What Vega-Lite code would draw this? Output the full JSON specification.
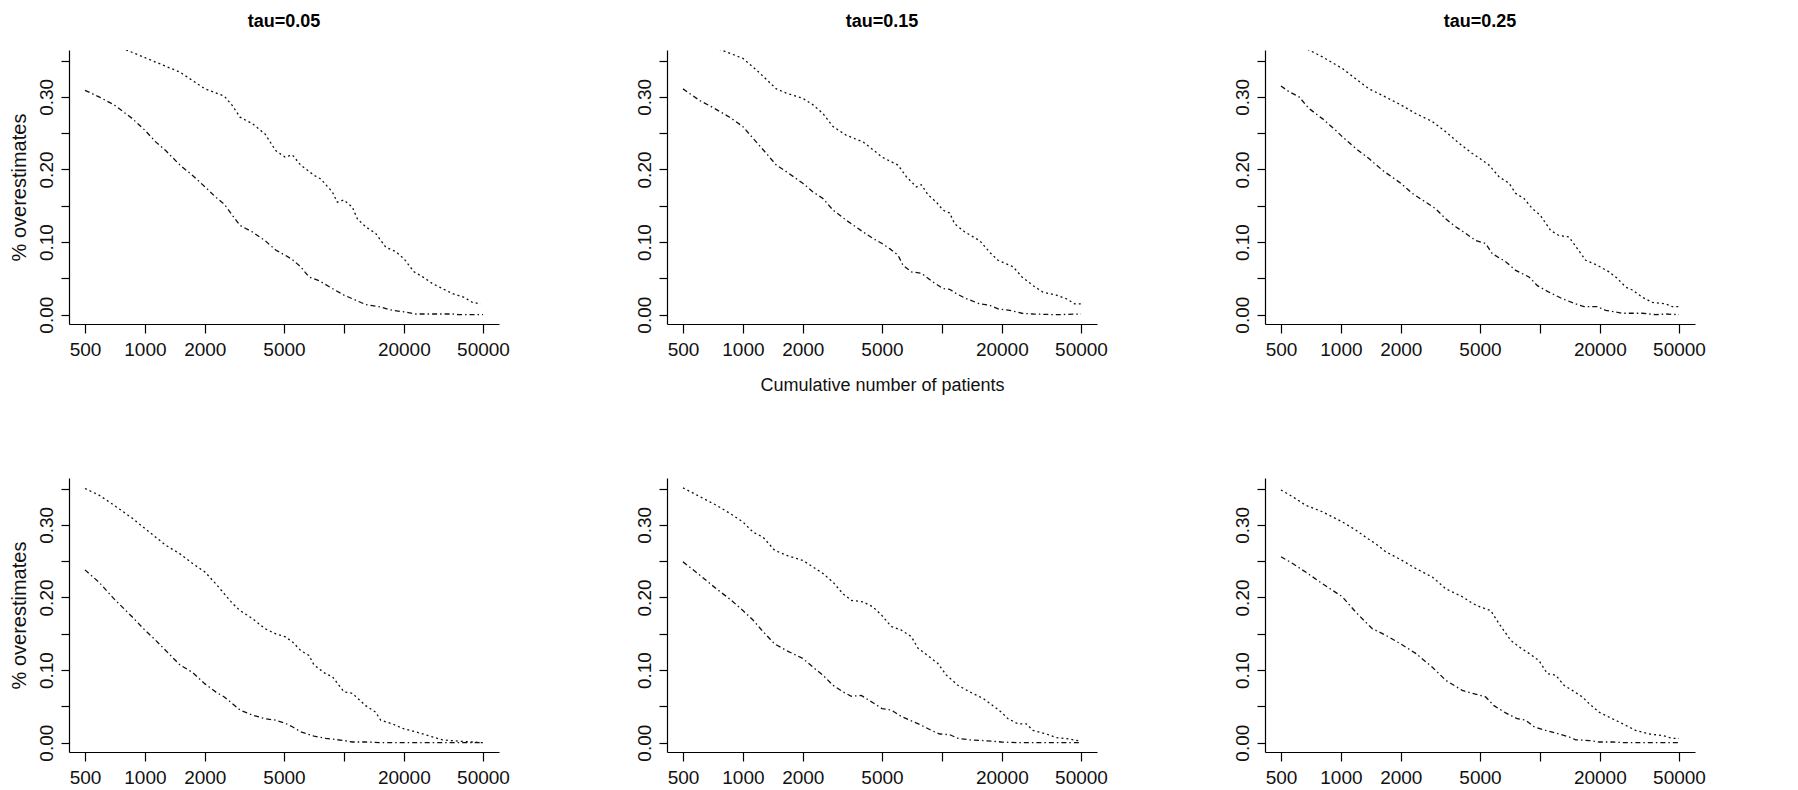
{
"$schema":"https://vega.github.io/schema/vega-lite/v6.json",
"padding":{"left":9,"top":13,"right":5,"bottom":0},
"background":"white",
"datasets":{"d":[
{"p":"TL","s":"upper","n":500,"v":0.39},{"p":"TL","s":"upper","n":800,"v":0.365},{"p":"TL","s":"upper","n":1000,"v":0.354},{"p":"TL","s":"upper","n":1177,"v":0.346},{"p":"TL","s":"upper","n":1501,"v":0.334},{"p":"TL","s":"upper","n":2004,"v":0.311},{"p":"TL","s":"upper","n":2507,"v":0.301},{"p":"TL","s":"upper","n":2750,"v":0.288},{"p":"TL","s":"upper","n":3005,"v":0.272},{"p":"TL","s":"upper","n":3467,"v":0.263},{"p":"TL","s":"upper","n":4013,"v":0.249},{"p":"TL","s":"upper","n":4541,"v":0.226},{"p":"TL","s":"upper","n":5058,"v":0.217},{"p":"TL","s":"upper","n":5507,"v":0.22},{"p":"TL","s":"upper","n":6063,"v":0.206},{"p":"TL","s":"upper","n":7075,"v":0.192},{"p":"TL","s":"upper","n":7643,"v":0.187},{"p":"TL","s":"upper","n":8749,"v":0.169},{"p":"TL","s":"upper","n":9267,"v":0.155},{"p":"TL","s":"upper","n":10010,"v":0.158},{"p":"TL","s":"upper","n":11025,"v":0.148},{"p":"TL","s":"upper","n":11682,"v":0.132},{"p":"TL","s":"upper","n":12864,"v":0.121},{"p":"TL","s":"upper","n":14441,"v":0.112},{"p":"TL","s":"upper","n":16215,"v":0.093},{"p":"TL","s":"upper","n":18200,"v":0.087},{"p":"TL","s":"upper","n":20045,"v":0.077},{"p":"TL","s":"upper","n":22505,"v":0.059},{"p":"TL","s":"upper","n":25260,"v":0.051},{"p":"TL","s":"upper","n":27823,"v":0.043},{"p":"TL","s":"upper","n":31237,"v":0.036},{"p":"TL","s":"upper","n":35073,"v":0.029},{"p":"TL","s":"upper","n":40135,"v":0.024},{"p":"TL","s":"upper","n":44203,"v":0.017},{"p":"TL","s":"upper","n":48669,"v":0.015},
{"p":"TL","s":"lower","n":500,"v":0.309},{"p":"TL","s":"lower","n":588,"v":0.3},{"p":"TL","s":"lower","n":700,"v":0.289},{"p":"TL","s":"lower","n":865,"v":0.27},{"p":"TL","s":"lower","n":1000,"v":0.254},{"p":"TL","s":"lower","n":1133,"v":0.238},{"p":"TL","s":"lower","n":1272,"v":0.226},{"p":"TL","s":"lower","n":1501,"v":0.206},{"p":"TL","s":"lower","n":1731,"v":0.192},{"p":"TL","s":"lower","n":2004,"v":0.176},{"p":"TL","s":"lower","n":2268,"v":0.162},{"p":"TL","s":"lower","n":2507,"v":0.152},{"p":"TL","s":"lower","n":2750,"v":0.137},{"p":"TL","s":"lower","n":3005,"v":0.123},{"p":"TL","s":"lower","n":3467,"v":0.114},{"p":"TL","s":"lower","n":4013,"v":0.102},{"p":"TL","s":"lower","n":4541,"v":0.089},{"p":"TL","s":"lower","n":5058,"v":0.082},{"p":"TL","s":"lower","n":5507,"v":0.076},{"p":"TL","s":"lower","n":6063,"v":0.066},{"p":"TL","s":"lower","n":6678,"v":0.052},{"p":"TL","s":"lower","n":7496,"v":0.047},{"p":"TL","s":"lower","n":8749,"v":0.036},{"p":"TL","s":"lower","n":10010,"v":0.027},{"p":"TL","s":"lower","n":11459,"v":0.02},{"p":"TL","s":"lower","n":12864,"v":0.014},{"p":"TL","s":"lower","n":15010,"v":0.011},{"p":"TL","s":"lower","n":17513,"v":0.006},{"p":"TL","s":"lower","n":20045,"v":0.004},{"p":"TL","s":"lower","n":22939,"v":0.001},{"p":"TL","s":"lower","n":27823,"v":0.001},{"p":"TL","s":"lower","n":35073,"v":0.001},{"p":"TL","s":"lower","n":37885,"v":0.0},{"p":"TL","s":"lower","n":50000,"v":0.0},
{"p":"TM","s":"upper","n":500,"v":0.39},{"p":"TM","s":"upper","n":770,"v":0.365},{"p":"TM","s":"upper","n":1000,"v":0.353},{"p":"TM","s":"upper","n":1170,"v":0.337},{"p":"TM","s":"upper","n":1472,"v":0.311},{"p":"TM","s":"upper","n":1653,"v":0.305},{"p":"TM","s":"upper","n":2000,"v":0.298},{"p":"TM","s":"upper","n":2250,"v":0.289},{"p":"TM","s":"upper","n":2525,"v":0.277},{"p":"TM","s":"upper","n":2837,"v":0.259},{"p":"TM","s":"upper","n":3311,"v":0.247},{"p":"TM","s":"upper","n":4013,"v":0.238},{"p":"TM","s":"upper","n":4419,"v":0.229},{"p":"TM","s":"upper","n":5000,"v":0.217},{"p":"TM","s":"upper","n":6018,"v":0.206},{"p":"TM","s":"upper","n":6629,"v":0.19},{"p":"TM","s":"upper","n":7438,"v":0.176},{"p":"TM","s":"upper","n":7883,"v":0.179},{"p":"TM","s":"upper","n":8515,"v":0.165},{"p":"TM","s":"upper","n":9375,"v":0.155},{"p":"TM","s":"upper","n":10127,"v":0.144},{"p":"TM","s":"upper","n":10940,"v":0.14},{"p":"TM","s":"upper","n":11593,"v":0.125},{"p":"TM","s":"upper","n":13015,"v":0.114},{"p":"TM","s":"upper","n":15481,"v":0.102},{"p":"TM","s":"upper","n":17377,"v":0.086},{"p":"TM","s":"upper","n":19140,"v":0.075},{"p":"TM","s":"upper","n":21076,"v":0.07},{"p":"TM","s":"upper","n":22766,"v":0.066},{"p":"TM","s":"upper","n":25260,"v":0.052},{"p":"TM","s":"upper","n":28704,"v":0.04},{"p":"TM","s":"upper","n":32211,"v":0.031},{"p":"TM","s":"upper","n":37584,"v":0.027},{"p":"TM","s":"upper","n":42200,"v":0.022},{"p":"TM","s":"upper","n":46450,"v":0.015},{"p":"TM","s":"upper","n":50000,"v":0.015},
{"p":"TM","s":"lower","n":500,"v":0.311},{"p":"TM","s":"lower","n":606,"v":0.295},{"p":"TM","s":"lower","n":721,"v":0.284},{"p":"TM","s":"lower","n":858,"v":0.272},{"p":"TM","s":"lower","n":1000,"v":0.259},{"p":"TM","s":"lower","n":1124,"v":0.243},{"p":"TM","s":"lower","n":1312,"v":0.222},{"p":"TM","s":"lower","n":1472,"v":0.206},{"p":"TM","s":"lower","n":1653,"v":0.197},{"p":"TM","s":"lower","n":2000,"v":0.181},{"p":"TM","s":"lower","n":2250,"v":0.169},{"p":"TM","s":"lower","n":2525,"v":0.16},{"p":"TM","s":"lower","n":2837,"v":0.144},{"p":"TM","s":"lower","n":3311,"v":0.13},{"p":"TM","s":"lower","n":4013,"v":0.114},{"p":"TM","s":"lower","n":4507,"v":0.105},{"p":"TM","s":"lower","n":5000,"v":0.098},{"p":"TM","s":"lower","n":5465,"v":0.091},{"p":"TM","s":"lower","n":6018,"v":0.082},{"p":"TM","s":"lower","n":6377,"v":0.068},{"p":"TM","s":"lower","n":7021,"v":0.059},{"p":"TM","s":"lower","n":7883,"v":0.057},{"p":"TM","s":"lower","n":9021,"v":0.045},{"p":"TM","s":"lower","n":10127,"v":0.036},{"p":"TM","s":"lower","n":10940,"v":0.035},{"p":"TM","s":"lower","n":11817,"v":0.029},{"p":"TM","s":"lower","n":13271,"v":0.022},{"p":"TM","s":"lower","n":15481,"v":0.015},{"p":"TM","s":"lower","n":17377,"v":0.013},{"p":"TM","s":"lower","n":19140,"v":0.008},{"p":"TM","s":"lower","n":21900,"v":0.006},{"p":"TM","s":"lower","n":25260,"v":0.002},{"p":"TM","s":"lower","n":28704,"v":0.001},{"p":"TM","s":"lower","n":37584,"v":0.0},{"p":"TM","s":"lower","n":50000,"v":0.001},
{"p":"TR","s":"upper","n":500,"v":0.385},{"p":"TR","s":"upper","n":686,"v":0.365},{"p":"TR","s":"upper","n":807,"v":0.355},{"p":"TR","s":"upper","n":1017,"v":0.339},{"p":"TR","s":"upper","n":1186,"v":0.325},{"p":"TR","s":"upper","n":1384,"v":0.311},{"p":"TR","s":"upper","n":1615,"v":0.302},{"p":"TR","s":"upper","n":2000,"v":0.289},{"p":"TR","s":"upper","n":2375,"v":0.277},{"p":"TR","s":"upper","n":2881,"v":0.266},{"p":"TR","s":"upper","n":3362,"v":0.252},{"p":"TR","s":"upper","n":3922,"v":0.236},{"p":"TR","s":"upper","n":4576,"v":0.222},{"p":"TR","s":"upper","n":5000,"v":0.215},{"p":"TR","s":"upper","n":5550,"v":0.206},{"p":"TR","s":"upper","n":6229,"v":0.19},{"p":"TR","s":"upper","n":6994,"v":0.181},{"p":"TR","s":"upper","n":7556,"v":0.167},{"p":"TR","s":"upper","n":8321,"v":0.16},{"p":"TR","s":"upper","n":9162,"v":0.146},{"p":"TR","s":"upper","n":10040,"v":0.137},{"p":"TR","s":"upper","n":11325,"v":0.116},{"p":"TR","s":"upper","n":12473,"v":0.109},{"p":"TR","s":"upper","n":14000,"v":0.107},{"p":"TR","s":"upper","n":15418,"v":0.091},{"p":"TR","s":"upper","n":16982,"v":0.075},{"p":"TR","s":"upper","n":19441,"v":0.068},{"p":"TR","s":"upper","n":22244,"v":0.059},{"p":"TR","s":"upper","n":24490,"v":0.05},{"p":"TR","s":"upper","n":26973,"v":0.038},{"p":"TR","s":"upper","n":29144,"v":0.034},{"p":"TR","s":"upper","n":32709,"v":0.024},{"p":"TR","s":"upper","n":36726,"v":0.017},{"p":"TR","s":"upper","n":42850,"v":0.015},{"p":"TR","s":"upper","n":46285,"v":0.011},{"p":"TR","s":"upper","n":50000,"v":0.011},
{"p":"TR","s":"lower","n":500,"v":0.315},{"p":"TR","s":"lower","n":549,"v":0.307},{"p":"TR","s":"lower","n":616,"v":0.3},{"p":"TR","s":"lower","n":691,"v":0.284},{"p":"TR","s":"lower","n":807,"v":0.27},{"p":"TR","s":"lower","n":941,"v":0.254},{"p":"TR","s":"lower","n":1017,"v":0.245},{"p":"TR","s":"lower","n":1186,"v":0.229},{"p":"TR","s":"lower","n":1384,"v":0.215},{"p":"TR","s":"lower","n":1615,"v":0.199},{"p":"TR","s":"lower","n":2000,"v":0.181},{"p":"TR","s":"lower","n":2286,"v":0.167},{"p":"TR","s":"lower","n":2566,"v":0.158},{"p":"TR","s":"lower","n":2993,"v":0.146},{"p":"TR","s":"lower","n":3362,"v":0.132},{"p":"TR","s":"lower","n":3773,"v":0.121},{"p":"TR","s":"lower","n":4236,"v":0.112},{"p":"TR","s":"lower","n":4756,"v":0.102},{"p":"TR","s":"lower","n":5339,"v":0.098},{"p":"TR","s":"lower","n":5766,"v":0.084},{"p":"TR","s":"lower","n":6729,"v":0.073},{"p":"TR","s":"lower","n":7556,"v":0.061},{"p":"TR","s":"lower","n":8814,"v":0.052},{"p":"TR","s":"lower","n":9709,"v":0.04},{"p":"TR","s":"lower","n":11110,"v":0.031},{"p":"TR","s":"lower","n":12964,"v":0.022},{"p":"TR","s":"lower","n":15125,"v":0.015},{"p":"TR","s":"lower","n":16654,"v":0.011},{"p":"TR","s":"lower","n":19441,"v":0.011},{"p":"TR","s":"lower","n":21403,"v":0.006},{"p":"TR","s":"lower","n":25956,"v":0.002},{"p":"TR","s":"lower","n":32709,"v":0.002},{"p":"TR","s":"lower","n":38174,"v":0.0},{"p":"TR","s":"lower","n":42850,"v":0.001},{"p":"TR","s":"lower","n":50000,"v":0.0},
{"p":"BL","s":"upper","n":500,"v":0.35},{"p":"BL","s":"upper","n":588,"v":0.341},{"p":"BL","s":"upper","n":700,"v":0.327},{"p":"BL","s":"upper","n":865,"v":0.309},{"p":"BL","s":"upper","n":1000,"v":0.295},{"p":"BL","s":"upper","n":1133,"v":0.283},{"p":"BL","s":"upper","n":1272,"v":0.272},{"p":"BL","s":"upper","n":1501,"v":0.26},{"p":"BL","s":"upper","n":1731,"v":0.247},{"p":"BL","s":"upper","n":2004,"v":0.235},{"p":"BL","s":"upper","n":2268,"v":0.219},{"p":"BL","s":"upper","n":2507,"v":0.205},{"p":"BL","s":"upper","n":2750,"v":0.192},{"p":"BL","s":"upper","n":3005,"v":0.182},{"p":"BL","s":"upper","n":3467,"v":0.171},{"p":"BL","s":"upper","n":4013,"v":0.157},{"p":"BL","s":"upper","n":4541,"v":0.15},{"p":"BL","s":"upper","n":5058,"v":0.146},{"p":"BL","s":"upper","n":5507,"v":0.139},{"p":"BL","s":"upper","n":6063,"v":0.127},{"p":"BL","s":"upper","n":6678,"v":0.12},{"p":"BL","s":"upper","n":7075,"v":0.107},{"p":"BL","s":"upper","n":8095,"v":0.095},{"p":"BL","s":"upper","n":8749,"v":0.091},{"p":"BL","s":"upper","n":10010,"v":0.07},{"p":"BL","s":"upper","n":11025,"v":0.068},{"p":"BL","s":"upper","n":12864,"v":0.051},{"p":"BL","s":"upper","n":14441,"v":0.042},{"p":"BL","s":"upper","n":15300,"v":0.031},{"p":"BL","s":"upper","n":17513,"v":0.026},{"p":"BL","s":"upper","n":20045,"v":0.019},{"p":"BL","s":"upper","n":22939,"v":0.015},{"p":"BL","s":"upper","n":27823,"v":0.008},{"p":"BL","s":"upper","n":31237,"v":0.004},{"p":"BL","s":"upper","n":37885,"v":0.002},{"p":"BL","s":"upper","n":44203,"v":0.001},{"p":"BL","s":"upper","n":50000,"v":0.0},
{"p":"BL","s":"lower","n":500,"v":0.238},{"p":"BL","s":"lower","n":588,"v":0.221},{"p":"BL","s":"lower","n":700,"v":0.198},{"p":"BL","s":"lower","n":865,"v":0.173},{"p":"BL","s":"lower","n":1000,"v":0.155},{"p":"BL","s":"lower","n":1133,"v":0.141},{"p":"BL","s":"lower","n":1272,"v":0.127},{"p":"BL","s":"lower","n":1501,"v":0.107},{"p":"BL","s":"lower","n":1731,"v":0.097},{"p":"BL","s":"lower","n":2004,"v":0.081},{"p":"BL","s":"lower","n":2268,"v":0.07},{"p":"BL","s":"lower","n":2507,"v":0.063},{"p":"BL","s":"lower","n":2750,"v":0.054},{"p":"BL","s":"lower","n":3005,"v":0.045},{"p":"BL","s":"lower","n":3467,"v":0.038},{"p":"BL","s":"lower","n":4013,"v":0.033},{"p":"BL","s":"lower","n":4541,"v":0.031},{"p":"BL","s":"lower","n":5058,"v":0.027},{"p":"BL","s":"lower","n":5507,"v":0.022},{"p":"BL","s":"lower","n":6063,"v":0.015},{"p":"BL","s":"lower","n":7075,"v":0.009},{"p":"BL","s":"lower","n":8095,"v":0.006},{"p":"BL","s":"lower","n":10010,"v":0.003},{"p":"BL","s":"lower","n":11025,"v":0.001},{"p":"BL","s":"lower","n":12864,"v":0.001},{"p":"BL","s":"lower","n":15300,"v":0.0},{"p":"BL","s":"lower","n":50000,"v":0.0},
{"p":"BM","s":"upper","n":500,"v":0.351},{"p":"BM","s":"upper","n":606,"v":0.339},{"p":"BM","s":"upper","n":735,"v":0.327},{"p":"BM","s":"upper","n":858,"v":0.316},{"p":"BM","s":"upper","n":1000,"v":0.304},{"p":"BM","s":"upper","n":1124,"v":0.29},{"p":"BM","s":"upper","n":1262,"v":0.283},{"p":"BM","s":"upper","n":1444,"v":0.265},{"p":"BM","s":"upper","n":1653,"v":0.258},{"p":"BM","s":"upper","n":2000,"v":0.251},{"p":"BM","s":"upper","n":2250,"v":0.242},{"p":"BM","s":"upper","n":2525,"v":0.233},{"p":"BM","s":"upper","n":2837,"v":0.221},{"p":"BM","s":"upper","n":3184,"v":0.205},{"p":"BM","s":"upper","n":3508,"v":0.196},{"p":"BM","s":"upper","n":4013,"v":0.194},{"p":"BM","s":"upper","n":4507,"v":0.187},{"p":"BM","s":"upper","n":5000,"v":0.175},{"p":"BM","s":"upper","n":5568,"v":0.16},{"p":"BM","s":"upper","n":6257,"v":0.155},{"p":"BM","s":"upper","n":7021,"v":0.146},{"p":"BM","s":"upper","n":7585,"v":0.13},{"p":"BM","s":"upper","n":8678,"v":0.118},{"p":"BM","s":"upper","n":9555,"v":0.109},{"p":"BM","s":"upper","n":10528,"v":0.093},{"p":"BM","s":"upper","n":12046,"v":0.079},{"p":"BM","s":"upper","n":13784,"v":0.07},{"p":"BM","s":"upper","n":16090,"v":0.061},{"p":"BM","s":"upper","n":18063,"v":0.051},{"p":"BM","s":"upper","n":19893,"v":0.042},{"p":"BM","s":"upper","n":21486,"v":0.033},{"p":"BM","s":"upper","n":24123,"v":0.026},{"p":"BM","s":"upper","n":26561,"v":0.026},{"p":"BM","s":"upper","n":28704,"v":0.017},{"p":"BM","s":"upper","n":33475,"v":0.012},{"p":"BM","s":"upper","n":37584,"v":0.007},{"p":"BM","s":"upper","n":43850,"v":0.005},{"p":"BM","s":"upper","n":50000,"v":0.002},
{"p":"BM","s":"lower","n":500,"v":0.249},{"p":"BM","s":"lower","n":606,"v":0.231},{"p":"BM","s":"lower","n":735,"v":0.212},{"p":"BM","s":"lower","n":858,"v":0.198},{"p":"BM","s":"lower","n":1000,"v":0.182},{"p":"BM","s":"lower","n":1124,"v":0.169},{"p":"BM","s":"lower","n":1262,"v":0.153},{"p":"BM","s":"lower","n":1444,"v":0.136},{"p":"BM","s":"lower","n":1653,"v":0.127},{"p":"BM","s":"lower","n":2000,"v":0.116},{"p":"BM","s":"lower","n":2250,"v":0.104},{"p":"BM","s":"lower","n":2525,"v":0.093},{"p":"BM","s":"lower","n":2837,"v":0.079},{"p":"BM","s":"lower","n":3184,"v":0.07},{"p":"BM","s":"lower","n":3508,"v":0.064},{"p":"BM","s":"lower","n":3936,"v":0.065},{"p":"BM","s":"lower","n":4507,"v":0.055},{"p":"BM","s":"lower","n":5000,"v":0.047},{"p":"BM","s":"lower","n":5568,"v":0.045},{"p":"BM","s":"lower","n":6257,"v":0.036},{"p":"BM","s":"lower","n":7021,"v":0.03},{"p":"BM","s":"lower","n":7883,"v":0.024},{"p":"BM","s":"lower","n":8849,"v":0.017},{"p":"BM","s":"lower","n":9745,"v":0.012},{"p":"BM","s":"lower","n":10940,"v":0.011},{"p":"BM","s":"lower","n":12046,"v":0.006},{"p":"BM","s":"lower","n":13784,"v":0.004},{"p":"BM","s":"lower","n":16090,"v":0.003},{"p":"BM","s":"lower","n":18063,"v":0.002},{"p":"BM","s":"lower","n":19893,"v":0.001},{"p":"BM","s":"lower","n":24123,"v":0.0},{"p":"BM","s":"lower","n":50000,"v":0.0},
{"p":"BR","s":"upper","n":500,"v":0.348},{"p":"BR","s":"upper","n":570,"v":0.339},{"p":"BR","s":"upper","n":665,"v":0.327},{"p":"BR","s":"upper","n":807,"v":0.318},{"p":"BR","s":"upper","n":906,"v":0.311},{"p":"BR","s":"upper","n":1017,"v":0.304},{"p":"BR","s":"upper","n":1186,"v":0.293},{"p":"BR","s":"upper","n":1332,"v":0.283},{"p":"BR","s":"upper","n":1495,"v":0.274},{"p":"BR","s":"upper","n":1678,"v":0.263},{"p":"BR","s":"upper","n":2000,"v":0.252},{"p":"BR","s":"upper","n":2375,"v":0.24},{"p":"BR","s":"upper","n":2881,"v":0.228},{"p":"BR","s":"upper","n":3362,"v":0.212},{"p":"BR","s":"upper","n":4076,"v":0.201},{"p":"BR","s":"upper","n":4576,"v":0.192},{"p":"BR","s":"upper","n":5000,"v":0.187},{"p":"BR","s":"upper","n":5657,"v":0.182},{"p":"BR","s":"upper","n":6229,"v":0.164},{"p":"BR","s":"upper","n":7132,"v":0.141},{"p":"BR","s":"upper","n":7852,"v":0.132},{"p":"BR","s":"upper","n":8814,"v":0.123},{"p":"BR","s":"upper","n":9896,"v":0.113},{"p":"BR","s":"upper","n":10898,"v":0.095},{"p":"BR","s":"upper","n":12000,"v":0.093},{"p":"BR","s":"upper","n":13216,"v":0.079},{"p":"BR","s":"upper","n":14553,"v":0.072},{"p":"BR","s":"upper","n":16344,"v":0.063},{"p":"BR","s":"upper","n":17652,"v":0.054},{"p":"BR","s":"upper","n":19815,"v":0.042},{"p":"BR","s":"upper","n":23121,"v":0.033},{"p":"BR","s":"upper","n":26973,"v":0.024},{"p":"BR","s":"upper","n":30283,"v":0.017},{"p":"BR","s":"upper","n":35345,"v":0.012},{"p":"BR","s":"upper","n":41241,"v":0.01},{"p":"BR","s":"upper","n":46285,"v":0.006},{"p":"BR","s":"upper","n":50000,"v":0.006},
{"p":"BR","s":"lower","n":500,"v":0.256},{"p":"BR","s":"lower","n":570,"v":0.247},{"p":"BR","s":"lower","n":665,"v":0.235},{"p":"BR","s":"lower","n":807,"v":0.219},{"p":"BR","s":"lower","n":906,"v":0.21},{"p":"BR","s":"lower","n":1017,"v":0.201},{"p":"BR","s":"lower","n":1186,"v":0.18},{"p":"BR","s":"lower","n":1332,"v":0.166},{"p":"BR","s":"lower","n":1439,"v":0.157},{"p":"BR","s":"lower","n":1678,"v":0.148},{"p":"BR","s":"lower","n":2000,"v":0.136},{"p":"BR","s":"lower","n":2375,"v":0.123},{"p":"BR","s":"lower","n":2881,"v":0.104},{"p":"BR","s":"lower","n":3362,"v":0.086},{"p":"BR","s":"lower","n":4076,"v":0.072},{"p":"BR","s":"lower","n":4576,"v":0.068},{"p":"BR","s":"lower","n":5339,"v":0.063},{"p":"BR","s":"lower","n":5878,"v":0.051},{"p":"BR","s":"lower","n":6729,"v":0.041},{"p":"BR","s":"lower","n":7701,"v":0.033},{"p":"BR","s":"lower","n":8482,"v":0.031},{"p":"BR","s":"lower","n":9338,"v":0.022},{"p":"BR","s":"lower","n":10690,"v":0.017},{"p":"BR","s":"lower","n":12473,"v":0.012},{"p":"BR","s":"lower","n":14000,"v":0.008},{"p":"BR","s":"lower","n":15125,"v":0.004},{"p":"BR","s":"lower","n":17652,"v":0.003},{"p":"BR","s":"lower","n":19815,"v":0.001},{"p":"BR","s":"lower","n":23121,"v":0.001},{"p":"BR","s":"lower","n":26973,"v":0.0},{"p":"BR","s":"lower","n":50000,"v":0.0}
]},
"data":{"name":"d"},
"columns":3,
"bounds":"flush",
"spacing":{"row":154,"column":168},
"concat":[
{"width":430,"height":274,"title":{"text":"tau=0.05"},"transform":[{"filter":"datum.p=='TL'"}],
 "mark":{"type":"line","clip":true},
 "encoding":{
  "x":{"field":"n","type":"quantitative","scale":{"type":"log","domain":[415.6,60150],"nice":false},"axis":{"title":null,"values":[500,1000,2000,5000,10000,20000,50000],"labelExpr":"datum.value == 10000 ? '' : format(datum.value, 'd')"}},
  "y":{"field":"v","type":"quantitative","scale":{"domain":[-0.0128,0.3645],"nice":false,"zero":false},"axis":{"title":"% overestimates","values":[0,0.05,0.1,0.15,0.2,0.25,0.3,0.35],"labelExpr":"round(datum.value*20) % 2 == 0 ? format(datum.value, '.2f') : ''"}},
  "strokeDash":{"field":"s","type":"nominal","scale":{"domain":["lower","upper"],"range":[[5,3,1.5,3],[2,3]]},"legend":null}}},
{"width":430,"height":274,"title":{"text":"tau=0.15"},"transform":[{"filter":"datum.p=='TM'"}],
 "mark":{"type":"line","clip":true},
 "encoding":{
  "x":{"field":"n","type":"quantitative","scale":{"type":"log","domain":[415.6,60150],"nice":false},"axis":{"title":"Cumulative number of patients","titleY":66.7,"titleBaseline":"alphabetic","titleFontSize":18,"values":[500,1000,2000,5000,10000,20000,50000],"labelExpr":"datum.value == 10000 ? '' : format(datum.value, 'd')"}},
  "y":{"field":"v","type":"quantitative","scale":{"domain":[-0.0128,0.3645],"nice":false,"zero":false},"axis":{"title":null,"values":[0,0.05,0.1,0.15,0.2,0.25,0.3,0.35],"labelExpr":"round(datum.value*20) % 2 == 0 ? format(datum.value, '.2f') : ''"}},
  "strokeDash":{"field":"s","type":"nominal","scale":{"domain":["lower","upper"],"range":[[5,3,1.5,3],[2,3]]},"legend":null}}},
{"width":430,"height":274,"title":{"text":"tau=0.25"},"transform":[{"filter":"datum.p=='TR'"}],
 "mark":{"type":"line","clip":true},
 "encoding":{
  "x":{"field":"n","type":"quantitative","scale":{"type":"log","domain":[415.6,60150],"nice":false},"axis":{"title":null,"values":[500,1000,2000,5000,10000,20000,50000],"labelExpr":"datum.value == 10000 ? '' : format(datum.value, 'd')"}},
  "y":{"field":"v","type":"quantitative","scale":{"domain":[-0.0128,0.3645],"nice":false,"zero":false},"axis":{"title":null,"values":[0,0.05,0.1,0.15,0.2,0.25,0.3,0.35],"labelExpr":"round(datum.value*20) % 2 == 0 ? format(datum.value, '.2f') : ''"}},
  "strokeDash":{"field":"s","type":"nominal","scale":{"domain":["lower","upper"],"range":[[5,3,1.5,3],[2,3]]},"legend":null}}},
{"width":430,"height":274,"transform":[{"filter":"datum.p=='BL'"}],
 "mark":{"type":"line","clip":true},
 "encoding":{
  "x":{"field":"n","type":"quantitative","scale":{"type":"log","domain":[415.6,60150],"nice":false},"axis":{"title":null,"values":[500,1000,2000,5000,10000,20000,50000],"labelExpr":"datum.value == 10000 ? '' : format(datum.value, 'd')"}},
  "y":{"field":"v","type":"quantitative","scale":{"domain":[-0.0128,0.3645],"nice":false,"zero":false},"axis":{"title":"% overestimates","values":[0,0.05,0.1,0.15,0.2,0.25,0.3,0.35],"labelExpr":"round(datum.value*20) % 2 == 0 ? format(datum.value, '.2f') : ''"}},
  "strokeDash":{"field":"s","type":"nominal","scale":{"domain":["lower","upper"],"range":[[5,3,1.5,3],[2,3]]},"legend":null}}},
{"width":430,"height":274,"transform":[{"filter":"datum.p=='BM'"}],
 "mark":{"type":"line","clip":true},
 "encoding":{
  "x":{"field":"n","type":"quantitative","scale":{"type":"log","domain":[415.6,60150],"nice":false},"axis":{"title":null,"values":[500,1000,2000,5000,10000,20000,50000],"labelExpr":"datum.value == 10000 ? '' : format(datum.value, 'd')"}},
  "y":{"field":"v","type":"quantitative","scale":{"domain":[-0.0128,0.3645],"nice":false,"zero":false},"axis":{"title":null,"values":[0,0.05,0.1,0.15,0.2,0.25,0.3,0.35],"labelExpr":"round(datum.value*20) % 2 == 0 ? format(datum.value, '.2f') : ''"}},
  "strokeDash":{"field":"s","type":"nominal","scale":{"domain":["lower","upper"],"range":[[5,3,1.5,3],[2,3]]},"legend":null}}},
{"width":430,"height":274,"transform":[{"filter":"datum.p=='BR'"}],
 "mark":{"type":"line","clip":true},
 "encoding":{
  "x":{"field":"n","type":"quantitative","scale":{"type":"log","domain":[415.6,60150],"nice":false},"axis":{"title":null,"values":[500,1000,2000,5000,10000,20000,50000],"labelExpr":"datum.value == 10000 ? '' : format(datum.value, 'd')"}},
  "y":{"field":"v","type":"quantitative","scale":{"domain":[-0.0128,0.3645],"nice":false,"zero":false},"axis":{"title":null,"values":[0,0.05,0.1,0.15,0.2,0.25,0.3,0.35],"labelExpr":"round(datum.value*20) % 2 == 0 ? format(datum.value, '.2f') : ''"}},
  "strokeDash":{"field":"s","type":"nominal","scale":{"domain":["lower","upper"],"range":[[5,3,1.5,3],[2,3]]},"legend":null}}}
],
"config":{
 "view":{"stroke":null},
 "font":"Liberation Sans",
 "line":{"color":"#111","strokeWidth":1.3},
 "title":{"font":"Liberation Sans","fontSize":18,"fontWeight":"bold","color":"#000","anchor":"middle","frame":"group","baseline":"alphabetic","offset":19},
 "axis":{"grid":false,"domainColor":"#000","tickColor":"#000","labelColor":"#111","labelFont":"Liberation Sans","labelFontSize":19,"titleFont":"Liberation Sans","titleFontWeight":"normal","titleColor":"#111","domainWidth":1.2,"tickWidth":1.2,"labelFlush":false,"labelOverlap":false,"labelBound":false},
 "axisX":{"tickSize":9,"labelPadding":7,"labelBaseline":"top","labelAngle":0},
 "axisY":{"tickSize":8,"labelPadding":9,"labelAngle":270,"labelAlign":"center","labelBaseline":"alphabetic","titleFontSize":20,"titleX":-43.3,"titleY":137,"titleAngle":270,"titleAlign":"center","titleBaseline":"alphabetic"}
}
}
